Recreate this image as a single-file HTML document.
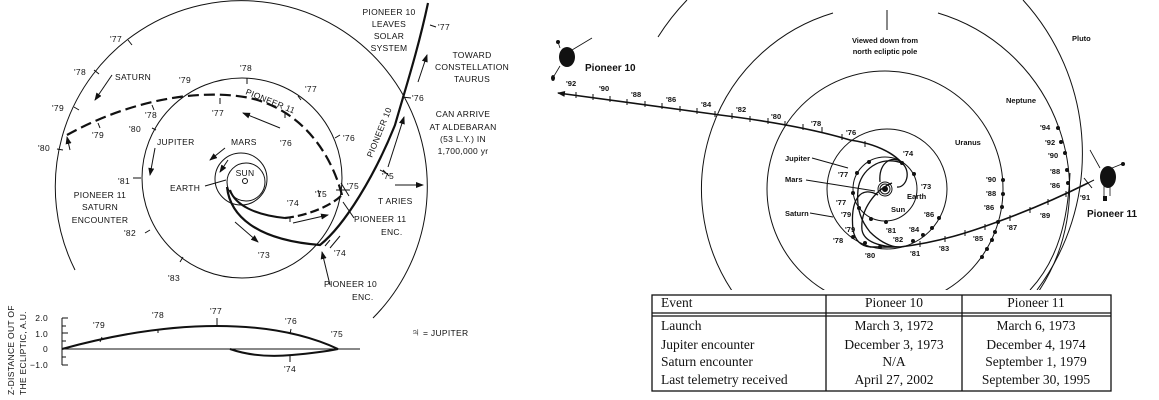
<!DOCTYPE html>
<html><head><meta charset="utf-8"><style>
html,body{margin:0;padding:0;background:#fff;}
svg{display:block;}
.l{font-family:"Liberation Sans",sans-serif;font-size:8.5px;fill:#111;letter-spacing:0.3px;}
.r{font-family:"Liberation Sans",sans-serif;font-size:7.5px;font-weight:bold;fill:#111;}
.t{font-family:"Liberation Serif",serif;font-size:13.5px;fill:#111;}
</style></head><body>
<svg width="1159" height="400" viewBox="0 0 1159 400" xmlns="http://www.w3.org/2000/svg">
<defs>
<marker id="ah" markerWidth="8" markerHeight="6" refX="7" refY="3" orient="auto" markerUnits="userSpaceOnUse"><path d="M0,0 L8,3 L0,6 z" fill="#111"/></marker>
<clipPath id="rc"><rect x="540" y="0" width="619" height="290"/></clipPath>
</defs>
<g fill="none" stroke="#111">
<path d="M75,270 A186,186 0 1 1 373,318" stroke-width="1"/>
<circle cx="242" cy="178" r="100" stroke-width="1"/>
<circle cx="241" cy="179" r="26" stroke-width="1"/>
<circle cx="246" cy="182" r="19" stroke-width="1"/>
<circle cx="245" cy="181" r="2.5" stroke-width="1"/>
<path d="M227,187 C230,215 255,240 320,245 C345,225 375,175 395,125 C405,90 418,50 428,3" stroke-width="2.2"/>
<path d="M230,190 C235,205 255,215 285,218" stroke-width="2"/>
<path d="M285,218 C305,216 330,207 342,195" stroke-width="2.2" stroke-dasharray="9,4"/>
<path d="M342,195 C330,150 300,110 250,98 C200,88 130,100 67,135" stroke-width="2.2" stroke-dasharray="11,5"/>
<path d="M128,40 L132,45 M94,70 L99,74 M74,107 L79,110 M57,149 L63,150 M430,25 L436,27 M402,97 L411,98 M380,170 L386,173"/>
<path d="M247,78 L247,84 M298,96 L301,100 M335,138 L340,135 M133,178 L141,178 M145,233 L150,230 M180,262 L183,257 M152,128 L156,130"/>
<path d="M220,98 L220,104 M152,105 L154,110 M98,123 L100,128 M285,112 L285,118 M290,217 L290,222 M336,190 L350,190 M341,183 L349,196 M318,190 L320,197 M325,246 L330,240 M330,248 L340,236 M383,170 L389,176"/>
<path d="M112,75 L95,100" marker-end="url(#ah)"/>
<path d="M155,148 L150,175" marker-end="url(#ah)"/>
<path d="M225,148 L210,160" marker-end="url(#ah)"/>
<path d="M228,160 L220,172" marker-end="url(#ah)"/>
<path d="M205,186 L226,180"/>
<path d="M280,128 L243,113" marker-end="url(#ah)"/>
<path d="M235,222 L258,242" marker-end="url(#ah)"/>
<path d="M293,223 L328,215" marker-end="url(#ah)"/>
<path d="M388,167 L404,117" marker-end="url(#ah)"/>
<path d="M418,82 L427,55" marker-end="url(#ah)"/>
<path d="M395,185 L423,185" marker-end="url(#ah)"/>
<path d="M70,150 L67,137" marker-end="url(#ah)"/>
<path d="M330,285 L322,252" marker-end="url(#ah)"/>
<path d="M354,218 L343,202"/>
<path d="M62,349 L360,349" stroke-width="1"/>
<path d="M62,318 L62,365 M62,318 L68,318 M62,326 L66,326 M62,333 L68,333 M62,341 L66,341 M62,349 L68,349 M62,357 L66,357 M62,365 L68,365"/>
<path d="M62,349 C120,333 170,326 217,326 C270,326 310,336 338,349" stroke-width="2"/>
<path d="M230,349 C250,356 270,357 292,355 C315,353 328,351 338,349" stroke-width="2"/>
<path d="M217,318 L217,326 M100,342 L102,337 M158,333 L158,329 M290,334 L291,329 M290,355 L290,362"/>
</g>
<g class="l">
<text x="389" y="15" text-anchor="middle">PIONEER 10</text>
<text x="389" y="27" text-anchor="middle">LEAVES</text>
<text x="389" y="39" text-anchor="middle">SOLAR</text>
<text x="389" y="51" text-anchor="middle">SYSTEM</text>
<text x="438" y="30">'77</text>
<text x="472" y="58" text-anchor="middle">TOWARD</text>
<text x="472" y="70" text-anchor="middle">CONSTELLATION</text>
<text x="472" y="82" text-anchor="middle">TAURUS</text>
<text x="412" y="101">'76</text>
<text x="463" y="117" text-anchor="middle">CAN ARRIVE</text>
<text x="463" y="130" text-anchor="middle">AT ALDEBARAN</text>
<text x="463" y="142" text-anchor="middle">(53 L.Y.) IN</text>
<text x="463" y="154" text-anchor="middle">1,700,000 yr</text>
<text x="382" y="179">'75</text>
<text x="347" y="189">'75</text>
<text x="315" y="197">'75</text>
<text x="378" y="204">T  ARIES</text>
<text x="354" y="222">PIONEER 11</text>
<text x="381" y="235">ENC.</text>
<text x="334" y="256">'74</text>
<text x="324" y="287">PIONEER 10</text>
<text x="352" y="300">ENC.</text>
<text x="258" y="258">'73</text>
<text x="287" y="206">'74</text>
<text x="170" y="191">EARTH</text>
<text x="245" y="176" text-anchor="middle">SUN</text>
<text x="231" y="145">MARS</text>
<text x="157" y="145">JUPITER</text>
<text x="118" y="184">'81</text>
<text x="124" y="236">'82</text>
<text x="168" y="281">'83</text>
<text x="129" y="132">'80</text>
<text x="145" y="118">'78</text>
<text x="92" y="138">'79</text>
<text x="179" y="83">'79</text>
<text x="240" y="71">'78</text>
<text x="305" y="92">'77</text>
<text x="212" y="116">'77</text>
<text x="280" y="146">'76</text>
<text x="343" y="141">'76</text>
<text x="110" y="42">'77</text>
<text x="74" y="75">'78</text>
<text x="115" y="80">SATURN</text>
<text x="52" y="111">'79</text>
<text x="38" y="151">'80</text>
<text x="100" y="198" text-anchor="middle">PIONEER 11</text>
<text x="100" y="210" text-anchor="middle">SATURN</text>
<text x="100" y="223" text-anchor="middle">ENCOUNTER</text>
<text transform="translate(245,94) rotate(22)">PIONEER 11</text>
<text transform="translate(372,158) rotate(-68)">PIONEER 10</text>
<text x="48" y="321" text-anchor="end">2.0</text>
<text x="48" y="337" text-anchor="end">1.0</text>
<text x="48" y="352" text-anchor="end">0</text>
<text x="48" y="368" text-anchor="end">−1.0</text>
<text x="93" y="328">'79</text>
<text x="152" y="318">'78</text>
<text x="210" y="314">'77</text>
<text x="285" y="324">'76</text>
<text x="331" y="337">'75</text>
<text x="284" y="372">'74</text>
<text transform="translate(14,395) rotate(-90)">Z-DISTANCE OUT OF</text>
<text transform="translate(26,395) rotate(-90)">THE ECLIPTIC, A.U.</text>
<text x="411" y="336"><tspan style="font-size:12px">♃</tspan>  =  JUPITER</text>
</g>

<g clip-path="url(#rc)">
<g fill="none" stroke="#111" stroke-width="1">
<circle cx="885" cy="189" r="32"/>
<circle cx="887" cy="189" r="60"/>
<circle cx="885" cy="189" r="118"/>
<path d="M833,13 A184,184 0 1 0 938,13"/>
<path d="M658,37 A228,228 0 0 1 687,0"/>
<path d="M1023,0 A228,228 0 0 1 1037,290"/>
<path d="M1070,173 C1068,220 1058,260 1030,290"/>
<circle cx="885" cy="189" r="7"/>
<circle cx="885" cy="189" r="5"/>
<circle cx="885" cy="189" r="2.5" fill="#111"/>
<path d="M902,163 C890,150 870,143 850,140 C810,128 760,120 720,115 L558,93" stroke-width="1.6" marker-end="url(#ah)"/>
<path d="M576,92 v6 M593,94 v6 M610,96 v6 M627,99 v6 M645,101 v6 M662,103 v6 M680,106 v6 M697,108 v6 M715,111 v6 M732,113 v6 M750,116 v6 M768,118 v6 M785,121 v6 M803,124 v6 M822,127 v6 M842,134 v6 M865,141 v6"/>
<path d="M880,182 C878,160 895,155 902,163 C912,172 906,188 897,187" stroke-width="1.3"/>
<path d="M902,163 C880,155 860,170 858,190 C856,210 862,222 870,232 C878,240 888,246 897,247" stroke-width="1.3"/>
<path d="M892,183 C875,190 860,210 862,230 C864,242 880,247 900,247" stroke-width="1.3"/>
<path d="M878,195 C860,185 850,200 853,230 C855,240 860,246 870,247" stroke-width="1.3"/>
<path d="M870,247 L900,247 C940,242 970,232 997,222 C1030,210 1060,197 1088,183" stroke-width="1.6"/>
<path d="M1084,178 L1092,188 M1088,183 L1094,180"/>
<path d="M920,241 v6 M945,236 v6 M965,230 v6 M985,224 v6 M1010,215 v6 M1030,207 v6 M1048,199 v6 M1066,191 v6"/>
<path d="M812,158 L848,168 M806,180 L875,191 M810,213 L833,217 M887,10 L887,30"/>
</g>
<g fill="#111">
<circle cx="869" cy="162" r="2"/><circle cx="857" cy="173" r="2"/><circle cx="853" cy="193" r="2"/><circle cx="859" cy="208" r="2"/><circle cx="871" cy="219" r="2"/><circle cx="886" cy="222" r="2"/><circle cx="902" cy="163" r="2"/><circle cx="914" cy="174" r="2"/>
<circle cx="853" cy="237" r="2"/><circle cx="865" cy="243" r="2"/><circle cx="880" cy="247" r="2"/><circle cx="913" cy="241" r="2"/><circle cx="923" cy="235" r="2"/><circle cx="932" cy="228" r="2"/><circle cx="939" cy="218" r="2"/>
<circle cx="1003" cy="180" r="2"/><circle cx="1003" cy="194" r="2"/><circle cx="1002" cy="207" r="2"/><circle cx="998" cy="222" r="2"/><circle cx="995" cy="232" r="2"/><circle cx="992" cy="240" r="2"/><circle cx="987" cy="249" r="2"/><circle cx="982" cy="257" r="2"/>
<circle cx="1058" cy="128" r="2"/><circle cx="1061" cy="142" r="2"/><circle cx="1065" cy="153" r="2"/><circle cx="1067" cy="170" r="2"/><circle cx="1068" cy="183" r="2"/>
<ellipse cx="567" cy="57" rx="8" ry="10"/>
<ellipse cx="553" cy="78" rx="2" ry="3"/><circle cx="558" cy="42" r="2"/>
<ellipse cx="1108" cy="177" rx="8" ry="11"/>
<rect x="1103" y="196" width="4" height="5"/><circle cx="1123" cy="164" r="2"/>
</g>
<g fill="none" stroke="#111" stroke-width="0.8">
<path d="M572,50 L592,38 M560,66 L554,76 M560,48 L558,42 M1100,168 L1090,150 M1112,168 L1122,164 M1104,186 L1104,196 M1110,186 L1110,196"/>
</g>
</g>
<g class="r">
<text x="885" y="43" text-anchor="middle">Viewed down from</text>
<text x="885" y="54" text-anchor="middle">north ecliptic pole</text>
<text x="1072" y="41">Pluto</text>
<text x="1006" y="103">Neptune</text>
<text x="955" y="145">Uranus</text>
<text x="585" y="71" style="font-size:10px">Pioneer 10</text>
<text x="1087" y="217" style="font-size:10px">Pioneer 11</text>
<text x="785" y="161">Jupiter</text>
<text x="785" y="182">Mars</text>
<text x="785" y="216">Saturn</text>
<text x="566" y="86">'92</text><text x="599" y="91">'90</text><text x="631" y="97">'88</text><text x="666" y="102">'86</text><text x="701" y="107">'84</text><text x="736" y="112">'82</text><text x="771" y="119">'80</text><text x="811" y="126">'78</text><text x="846" y="135">'76</text>
<text x="903" y="156">'74</text><text x="921" y="189">'73</text><text x="907" y="199">Earth</text><text x="891" y="212">Sun</text>
<text x="838" y="177">'77</text><text x="836" y="205">'77</text><text x="841" y="217">'79</text><text x="845" y="232">'79</text><text x="833" y="243">'78</text>
<text x="865" y="258">'80</text><text x="886" y="233">'81</text><text x="893" y="242">'82</text><text x="910" y="256">'81</text><text x="909" y="232">'84</text><text x="924" y="217">'86</text>
<text x="939" y="251">'83</text><text x="973" y="241">'85</text><text x="1007" y="230">'87</text><text x="1040" y="218">'89</text><text x="1080" y="200">'91</text>
<text x="986" y="182">'90</text><text x="986" y="196">'88</text><text x="984" y="210">'86</text>
<text x="1040" y="130">'94</text><text x="1045" y="145">'92</text><text x="1048" y="158">'90</text><text x="1050" y="174">'88</text><text x="1050" y="188">'86</text>
</g>

<g fill="none" stroke="#111" stroke-width="1.3">
<rect x="652" y="295" width="459" height="96" fill="#fff"/>
<line x1="652" y1="313" x2="1111" y2="313"/>
<line x1="652" y1="316" x2="1111" y2="316"/>
<line x1="826" y1="295" x2="826" y2="391"/>
<line x1="962" y1="295" x2="962" y2="391"/>
</g>
<g class="t">
<text x="661" y="307">Event</text>
<text x="894" y="307" text-anchor="middle">Pioneer 10</text>
<text x="1036" y="307" text-anchor="middle">Pioneer 11</text>
<text x="661" y="330">Launch</text>
<text x="894" y="330" text-anchor="middle">March 3, 1972</text>
<text x="1036" y="330" text-anchor="middle">March 6, 1973</text>
<text x="661" y="349">Jupiter encounter</text>
<text x="894" y="349" text-anchor="middle">December 3, 1973</text>
<text x="1036" y="349" text-anchor="middle">December 4, 1974</text>
<text x="661" y="366">Saturn encounter</text>
<text x="894" y="366" text-anchor="middle">N/A</text>
<text x="1036" y="366" text-anchor="middle">September 1, 1979</text>
<text x="661" y="384">Last telemetry received</text>
<text x="894" y="384" text-anchor="middle">April 27, 2002</text>
<text x="1036" y="384" text-anchor="middle">September 30, 1995</text>
</g>
</svg>
</body></html>
